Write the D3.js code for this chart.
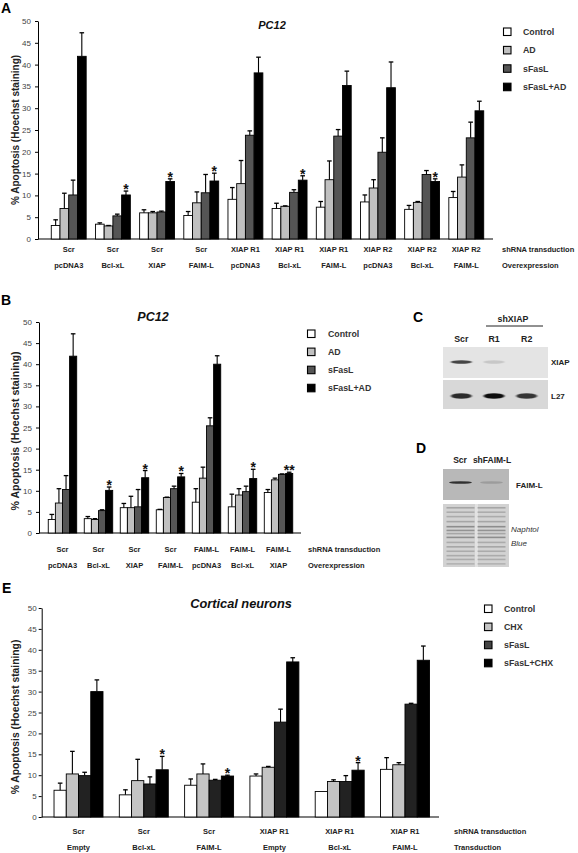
<!DOCTYPE html>
<html><head><meta charset="utf-8">
<script src="https://cdn.jsdelivr.net/npm/d3@7"></script>
<style>body{margin:0;background:#fff} svg{display:block;font-family:Arial,"Liberation Sans",sans-serif}</style>
</head><body><svg id="c" width="578" height="853"></svg>
<script>
// ---------- DATA ----------
const tickVals = [0,5,10,15,20,25,30,35,40,45,50];

// Panel A
const shA = ["Scr","Scr","Scr","Scr","XIAP R1","XIAP R1","XIAP R1","XIAP R2","XIAP R2","XIAP R2"];
const ovA = ["pcDNA3","Bcl-xL","XIAP","FAIM-L","pcDNA3","Bcl-xL","FAIM-L","pcDNA3","Bcl-xL","FAIM-L"];
const seriesA = ["Control","AD","sFasL","sFasL+AD"];
const A_control = [3.1,3.4,6.0,5.4,9.1,7.0,7.3,8.5,6.8,9.5];
const A_ad      = [7.0,3.0,6.0,8.3,12.7,7.5,13.6,11.7,8.4,14.2];
const A_sfasl   = [10.1,5.3,6.2,10.6,23.8,10.7,23.6,19.9,14.8,23.2];
const A_both    = [41.9,10.1,13.2,13.3,38.1,13.5,35.2,34.7,13.2,29.4];
const A_control_err = [1.3,0.3,0.7,0.9,2.7,1.2,1.3,1.6,0.9,1.4];
const A_ad_err      = [3.5,0.1,0.3,2.5,5.3,0.1,4.3,1.9,0.2,2.8];
const A_sfasl_err   = [3.4,0.4,0.2,4.2,1.0,0.6,1.5,3.3,0.9,3.6];
const A_both_err    = [5.4,0.9,0.6,1.8,3.6,1.0,3.3,5.9,0.6,2.2];
const A_stars = ["","*","*","*","","*","","","*",""];

// Panel B
const shB = ["Scr","Scr","Scr","Scr","FAIM-L","FAIM-L","FAIM-L"];
const ovB = ["pcDNA3","Bcl-xL","XIAP","FAIM-L","pcDNA3","Bcl-xL","XIAP"];
const seriesB = ["Control","AD","sFasL","sFasL+AD"];
const B_control = [3.2,3.4,6.0,5.5,7.3,6.2,9.6];
const B_ad      = [7.1,3.2,6.0,8.4,13.0,9.0,12.6];
const B_sfasl   = [10.3,5.3,6.2,10.5,25.4,9.8,13.9];
const B_both    = [41.9,10.1,13.1,13.3,40.0,12.9,14.1];
const B_control_err = [1.2,0.5,1.0,0.1,3.2,3.0,0.7];
const B_ad_err      = [3.4,0.2,2.7,0.1,2.6,1.5,0.4];
const B_sfasl_err   = [3.3,0.2,4.1,0.6,1.9,1.3,0.1];
const B_both_err    = [5.3,0.8,1.7,0.8,2.0,2.2,0.3];
const B_stars = ["","*","*","*","","*","**"];

// Panel E
const shE = ["Scr","Scr","Scr","XIAP R1","XIAP R1","XIAP R1"];
const trE = ["Empty","Bcl-xL","FAIM-L","Empty","Bcl-xL","FAIM-L"];
const seriesE = ["Control","CHX","sFasL","sFasL+CHX"];
const E_control = [6.4,5.3,7.6,9.8,6.1,11.4];
const E_chx     = [10.3,8.7,10.3,11.9,8.5,12.5];
const E_sfasl   = [9.9,7.9,8.8,22.7,8.5,27.0];
const E_both    = [30.0,11.3,9.8,37.1,11.2,37.5];
const E_control_err = [1.7,1.2,1.5,0.5,0,2.8];
const E_chx_err     = [5.4,5.1,2.4,0.2,0.4,0.5];
const E_sfasl_err   = [0.8,1.7,0.2,3.1,1.4,0.2];
const E_both_err    = [2.8,3.2,0.2,1.0,1.8,3.4];
const E_stars = ["","*","*","","*",""];

// Gels
const gelC_lanes = ["Scr","R1","R2"];
const gelC_xiap = [0.85,0.15,0];
const gelC_l27  = [0.85,1.0,0.8];
const gelD_lanes = ["Scr","shFAIM-L"];
const gelD_faim = [0.9,0.18];
const naphtolBands = [0.06,0.13,0.2,0.28,0.36,0.42,0.47,0.53,0.61,0.68,0.75,0.82,0.88,0.95];
const naphtolStrength = [0.35,0.3,0.3,0.35,0.55,0.5,0.35,0.55,0.3,0.35,0.3,0.3,0.3,0.25];

// ---------- DRAW ----------
const svg = d3.select("#c");
const defs = svg.append("defs");
defs.append("filter").attr("id","blur").attr("x","-30%").attr("y","-200%").attr("width","160%").attr("height","500%")
  .append("feGaussianBlur").attr("stdDeviation","1.1 0.7");
defs.append("filter").attr("id","blur2").attr("x","-10%").attr("y","-200%").attr("width","120%").attr("height","500%")
  .append("feGaussianBlur").attr("stdDeviation","0.6 0.5");

function panel(o){
  const g = svg.append("g");
  const n = o.row1.length;
  const x = d3.scaleBand().domain(d3.range(n)).range(o.xr).paddingInner(o.pad).paddingOuter(o.pad);
  const xs = d3.scaleBand().domain(d3.range(4)).range([0, x.bandwidth()]);
  const y = d3.scaleLinear().domain([0,50]).range(o.yr);

  const ya = d3.axisLeft(y).tickValues(tickVals).tickSize(3).tickSizeOuter(0).tickPadding(o.tpad);
  const ag = g.append("g").attr("transform",`translate(${o.axisX},0)`).call(ya);
  ag.select(".domain").attr("stroke","#000");
  ag.selectAll(".tick line").attr("stroke","#000");
  ag.selectAll(".tick text").attr("font-size",8).attr("fill","#444").attr("font-family","Arial, Liberation Sans, sans-serif");
  g.append("line").attr("x1",o.axisX).attr("x2",o.xEnd).attr("y1",y(0)).attr("y2",y(0)).attr("stroke","#000").attr("stroke-width",1.2);

  o.vals.forEach((arr,s)=>{
    arr.forEach((v,i)=>{
      const bx = x(i)+xs(s);
      g.append("rect").attr("x",bx).attr("y",y(v)).attr("width",xs.bandwidth()).attr("height",y(0)-y(v))
        .attr("fill",o.colors[s]).attr("stroke","#000").attr("stroke-width",0.9);
      const e = o.errs[s][i];
      if(e>0){
        const cx = bx+xs.bandwidth()/2;
        g.append("line").attr("x1",cx).attr("x2",cx).attr("y1",y(v)).attr("y2",y(v+e)).attr("stroke","#000").attr("stroke-width",1.1);
        g.append("line").attr("x1",cx-2.3).attr("x2",cx+2.3).attr("y1",y(v+e)).attr("y2",y(v+e)).attr("stroke","#000").attr("stroke-width",1.3);
      }
    });
  });
  o.stars.forEach((st,i)=>{
    if(!st) return;
    const v = o.vals[3][i]+o.errs[3][i];
    g.append("text").attr("x",x(i)+xs(3)+xs.bandwidth()/2).attr("y",y(v)+o.starDy).attr("text-anchor","middle")
      .attr("font-size",o.starSize).attr("font-weight","bold").attr("fill","#111").text(st);
  });
  [o.row1,o.row2].forEach((row,r)=>{
    row.forEach((t,i)=>{
      g.append("text").attr("x",x(i)+x.bandwidth()/2).attr("y",o.rowY[r]).attr("text-anchor","middle")
        .attr("font-size",o.catSize).attr("font-weight","bold").attr("fill","#222").text(t);
    });
    g.append("text").attr("x",o.rowLabelX).attr("y",o.rowY[r]).attr("font-size",o.catSize).attr("font-weight","bold")
      .attr("fill","#222").text(o.rowLabels[r]);
  });
  g.append("text").attr("transform",`translate(${o.ytX},${o.ytY}) rotate(-90)`).attr("text-anchor","middle")
    .attr("font-size",o.ytSize).attr("font-weight","bold").attr("fill","#222").text("% Apoptosis (Hoechst staining)");
  g.append("text").attr("x",o.titleX).attr("y",o.titleY).attr("text-anchor","middle").attr("font-size",o.titleSize)
    .attr("font-weight","bold").attr("font-style","italic").attr("fill","#111").text(o.title);
  g.append("text").attr("x",o.letterX).attr("y",o.letterY).attr("font-size",14).attr("font-weight","bold").attr("fill","#000").text(o.letter);
  o.series.forEach((s,k)=>{
    const yy = o.legY + k*o.legStep;
    g.append("rect").attr("x",o.legX).attr("y",yy-7).attr("width",7.5).attr("height",7.5)
      .attr("fill",o.legColors[k]).attr("stroke","#000").attr("stroke-width",1.1);
    g.append("text").attr("x",o.legTX).attr("y",yy).attr("font-size",8.8).attr("font-weight","bold").attr("fill","#333").text(s);
  });
}

panel({
  row1: shA, row2: ovA, rowLabels:["shRNA transduction","Overexpression"],
  vals:[A_control,A_ad,A_sfasl,A_both], errs:[A_control_err,A_ad_err,A_sfasl_err,A_both_err], stars:A_stars,
  colors:["#ffffff","#c0c0c0","#555555","#000000"], legColors:["#ffffff","#c0c0c0","#555555","#000000"],
  xr:[42,493], pad:0.21, yr:[239,21], axisX:38, xEnd:493, tpad:4,
  starDy:3, starSize:14, catSize:7.5, rowY:[252,268], rowLabelX:502,
  ytX:19, ytY:130, ytSize:10, title:"PC12", titleX:272, titleY:29, titleSize:11,
  letter:"A", letterX:1, letterY:12.5, series:seriesA, legX:503.5, legTX:523, legY:35, legStep:18.4
});
panel({
  row1: shB, row2: ovB, rowLabels:["shRNA transduction","Overexpression"],
  vals:[B_control,B_ad,B_sfasl,B_both], errs:[B_control_err,B_ad_err,B_sfasl_err,B_both_err], stars:B_stars,
  colors:["#ffffff","#c0c0c0","#555555","#000000"], legColors:["#ffffff","#c0c0c0","#555555","#000000"],
  xr:[40.7,300.3], pad:0.21, yr:[533,322], axisX:39, xEnd:301, tpad:4,
  starDy:3, starSize:14, catSize:7.5, rowY:[552,568], rowLabelX:308,
  ytX:19, ytY:431, ytSize:10.6, title:"PC12", titleX:153, titleY:321, titleSize:12.5,
  letter:"B", letterX:1, letterY:305, series:seriesB, legX:307.5, legTX:328, legY:337, legStep:18.1
});
panel({
  row1: shE, row2: trE, rowLabels:["shRNA transduction","Transduction"],
  vals:[E_control,E_chx,E_sfasl,E_both], errs:[E_control_err,E_chx_err,E_sfasl_err,E_both_err], stars:E_stars,
  colors:["#ffffff","#c4c4c4","#222222","#000000"], legColors:["#ffffff","#c4c4c4","#444444","#000000"],
  xr:[37.7,445.8], pad:0.25, yr:[817,608], axisX:41.7, xEnd:439, tpad:2,
  starDy:3, starSize:14, catSize:7.5, rowY:[834,850], rowLabelX:454,
  ytX:19, ytY:717, ytSize:10.3, title:"Cortical neurons", titleX:241, titleY:608, titleSize:12.8,
  letter:"E", letterX:2, letterY:593, series:seriesE, legX:484.5, legTX:504, legY:612, legStep:18.1
});

// ---------- Gel C ----------
(function(){
  const g = svg.append("g");
  const lx = d3.scaleBand().domain(gelC_lanes).range([445,543]);
  g.append("text").attr("x",413).attr("y",322).attr("font-size",14).attr("font-weight","bold").text("C");
  g.append("text").attr("x",513).attr("y",321.5).attr("text-anchor","middle").attr("font-size",8.8).attr("font-weight","bold").attr("fill","#222").text("shXIAP");
  g.append("line").attr("x1",486).attr("x2",543).attr("y1",326).attr("y2",326).attr("stroke","#222").attr("stroke-width",1);
  gelC_lanes.forEach(l=>g.append("text").attr("x",lx(l)+lx.bandwidth()/2).attr("y",341.5).attr("text-anchor","middle")
    .attr("font-size",8.8).attr("font-weight","bold").attr("fill","#222").text(l));
  g.append("rect").attr("x",443).attr("y",347).attr("width",105).attr("height",31).attr("fill","#e4e4e4");
  g.append("rect").attr("x",443).attr("y",380).attr("width",105).attr("height",29).attr("fill","#d8d8d8");
  gelC_lanes.forEach((l,i)=>{
    const cx = lx(l)+lx.bandwidth()/2;
    if(gelC_xiap[i]>0) g.append("ellipse").attr("cx",cx).attr("cy",362).attr("rx",10.5).attr("ry",1.8)
      .attr("fill","#2a2a2a").attr("opacity",gelC_xiap[i]).attr("filter","url(#blur)");
    g.append("ellipse").attr("cx",cx).attr("cy",396).attr("rx",10.5).attr("ry",2.8)
      .attr("fill","#111").attr("opacity",gelC_l27[i]).attr("filter","url(#blur)");
  });
  g.append("text").attr("x",551).attr("y",365).attr("font-size",8).attr("font-weight","bold").attr("fill","#222").text("XIAP");
  g.append("text").attr("x",551).attr("y",399).attr("font-size",8).attr("font-weight","bold").attr("fill","#222").text("L27");
})();

// ---------- Gel D ----------
(function(){
  const g = svg.append("g");
  const lx = d3.scaleBand().domain(gelD_lanes).range([445,507]);
  g.append("text").attr("x",416).attr("y",453).attr("font-size",14).attr("font-weight","bold").text("D");
  g.append("text").attr("x",460).attr("y",463).attr("text-anchor","middle").attr("font-size",8.5).attr("font-weight","bold").attr("fill","#222").text("Scr");
  g.append("text").attr("x",492).attr("y",463).attr("text-anchor","middle").attr("font-size",8.5).attr("font-weight","bold").attr("fill","#222").text("shFAIM-L");
  g.append("rect").attr("x",443).attr("y",469).attr("width",66).attr("height",31).attr("fill","#b8b8b8");
  gelD_lanes.forEach((l,i)=>{
    const cx = lx(l)+lx.bandwidth()/2;
    g.append("ellipse").attr("cx",cx).attr("cy",482.5).attr("rx",11.5).attr("ry",1.3)
      .attr("fill","#222").attr("opacity",gelD_faim[i]).attr("filter","url(#blur2)");
  });
  g.append("text").attr("x",516).attr("y",487.5).attr("font-size",8).attr("font-weight","bold").attr("fill","#222").text("FAIM-L");
  const top=504, h=63;
  g.append("rect").attr("x",443).attr("y",top).attr("width",66).attr("height",h).attr("fill","#d2d2d2");
  g.append("rect").attr("x",475).attr("y",top).attr("width",3).attr("height",h).attr("fill","#e2e2e2");
  gelD_lanes.forEach((l,i)=>{
    const x0 = lx(l)+1.5;
    naphtolBands.forEach((b,k)=>{
      g.append("rect").attr("x",x0).attr("y",top+b*h-0.8).attr("width",lx.bandwidth()-3).attr("height",1.6)
        .attr("fill","#555").attr("opacity",naphtolStrength[k]).attr("filter","url(#blur2)");
    });
  });
  g.append("text").attr("x",511).attr("y",531.5).attr("font-size",8).attr("font-style","italic").attr("fill","#333").text("Naphtol");
  g.append("text").attr("x",511).attr("y",546).attr("font-size",8).attr("font-style","italic").attr("fill","#333").text("Blue");
})();
</script></body></html>
